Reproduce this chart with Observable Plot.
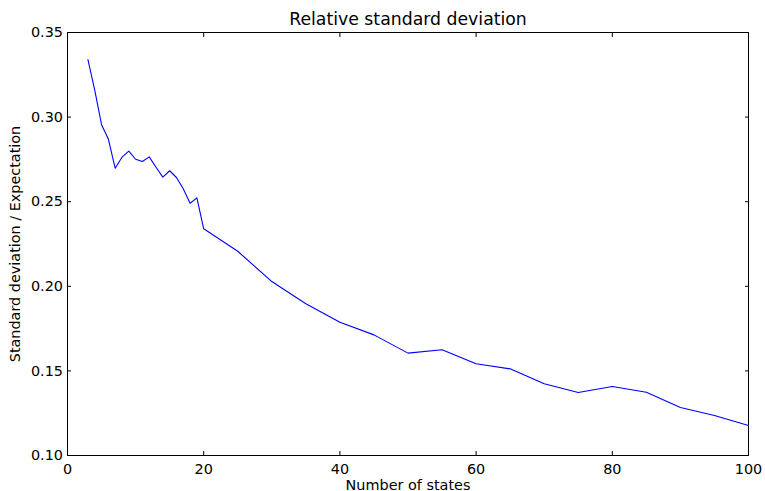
<!DOCTYPE html>
<html>
<head>
<meta charset="utf-8">
<script src="https://cdn.jsdelivr.net/npm/d3@7"></script>
<script src="https://cdn.jsdelivr.net/npm/@observablehq/plot@0.6"></script>
<style>
  html, body { margin: 0; padding: 0; background: #fff; }
  #chart svg { display: block; }
</style>
</head>
<body>
<div id="chart"></div>
<script>
const states = [3, 4, 5, 6, 7, 8, 9, 10, 11, 12, 13, 14, 15, 16, 17, 18, 19, 20,
  25, 30, 35, 40, 45, 50, 55, 60, 65, 70, 75, 80, 85, 90, 95, 100];
const relStd = [0.334, 0.316, 0.2955, 0.287, 0.2698, 0.2763, 0.2799, 0.2751, 0.2738, 0.2765,
  0.2704, 0.2645, 0.2683, 0.2643, 0.2576, 0.2491, 0.2523, 0.234,
  0.2207, 0.2028, 0.1897, 0.1788, 0.1713, 0.1605, 0.1625, 0.1542, 0.1512, 0.1424,
  0.1372, 0.1408, 0.1374, 0.1284, 0.1236, 0.1177];
const xTicks = [0, 20, 40, 60, 80, 100];
const yTicks = [0.10, 0.15, 0.20, 0.25, 0.30, 0.35];
const title = "Relative standard deviation";
const xLabel = "Number of states";
const yLabel = "Standard deviation / Expectation";

const data = states.map((s, i) => ({s, v: relStd[i]}));

const chart = Plot.plot({
  width: 765,
  height: 491,
  marginLeft: 67,
  marginRight: 17,
  marginTop: 32,
  marginBottom: 36,
  style: {fontFamily: "DejaVu Sans", fontSize: "14.4px", color: "black", background: "white"},
  x: {domain: [0, 100]},
  y: {domain: [0.10, 0.35]},
  marks: [
    Plot.frame({stroke: "black", strokeWidth: 1}),
    Plot.axisX(xTicks, {anchor: "bottom", tickSize: -4, tickPadding: 12, tickFormat: d => String(d),
      label: xLabel, labelAnchor: "center", labelArrow: "none", labelOffset: 34, fontSize: 14.4}),
    Plot.axisX(xTicks, {anchor: "top", tickSize: -4, tickFormat: () => "", label: null}),
    Plot.axisY(yTicks, {anchor: "left", tickSize: -4, tickPadding: 8.5, tickFormat: d3.format(".2f"),
      label: yLabel, labelAnchor: "center", labelArrow: "none", labelOffset: 58, fontSize: 14.4}),
    Plot.axisY(yTicks, {anchor: "right", tickSize: -4, tickFormat: () => "", label: null}),
    Plot.line(data, {x: "s", y: "v", stroke: "#0000ff", strokeWidth: 1.1}),
    Plot.text([title], {frameAnchor: "top", lineAnchor: "middle", dy: -13, text: d => d, fontSize: 17.3, fill: "black"})
  ]
});
document.getElementById("chart").appendChild(chart);
</script>
</body>
</html>
